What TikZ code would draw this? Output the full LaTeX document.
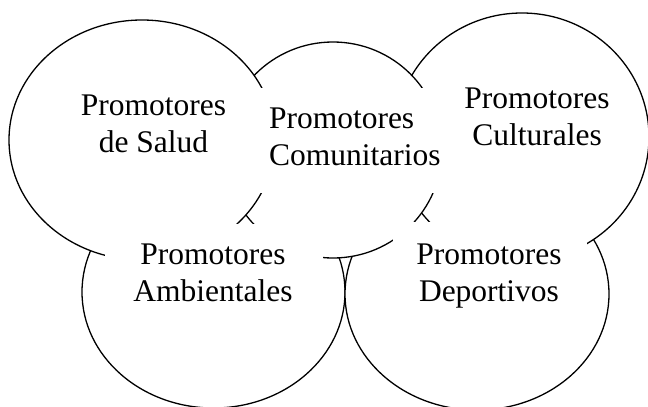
\documentclass[tikz,border=0pt]{standalone}
\usepackage{fontspec}
\setmainfont{Liberation Serif}
\begin{document}
\begin{tikzpicture}[x=1pt,y=-1pt,
  bubble/.style={draw=black, fill=white, line width=1.3pt},
  cover/.style={fill=white, draw=none, inner sep=0pt, outer sep=0pt},
  lbl/.style={inner sep=0pt, outer sep=0pt, font=\fontsize{31.5}{37}\selectfont}]
\useasboundingbox (0,0) rectangle (648,407);
\clip (0,0) rectangle (648,407);
\fill[white] (0,0) rectangle (648,407);
% circles, back to front
\path[bubble] (213.5,292) ellipse [x radius=131.5pt, y radius=116pt];
\path[bubble] (477,294) ellipse [x radius=132pt, y radius=116pt];
\path[bubble] (522,137) ellipse [x radius=127pt, y radius=124pt];
\path[bubble] (333,150) ellipse [x radius=109pt, y radius=108pt];
\path[bubble] (142,140) ellipse [x radius=133pt, y radius=120pt];
% white text boxes
\node[cover, minimum width=189pt, minimum height=105pt] (boxCom) at (351.5,140.5) {};
\node[cover, minimum width=218pt, minimum height=96pt] (boxAmb) at (214,272) {};
\node[cover, minimum width=194pt, minimum height=98pt] (boxDep) at (490,271) {};
% labels
\node[lbl, anchor=base] (sal1) at (153.5,115) {Promotores};
\node[lbl, anchor=base] (sal2) at (153.5,152) {de Salud};
\node[lbl, anchor=base west] (com1) at (269,128) {Promotores};
\node[lbl, anchor=base west] (com2) at (269,165) {Comunitarios};
\node[lbl, anchor=base] (cul1) at (537,108) {Promotores};
\node[lbl, anchor=base] (cul2) at (537,145) {Culturales};
\node[lbl, anchor=base] (amb1) at (213,264) {Promotores};
\node[lbl, anchor=base] (amb2) at (213,301) {Ambientales};
\node[lbl, anchor=base] (dep1) at (489,264) {Promotores};
\node[lbl, anchor=base] (dep2) at (489,301) {Deportivos};
\end{tikzpicture}
\end{document}
